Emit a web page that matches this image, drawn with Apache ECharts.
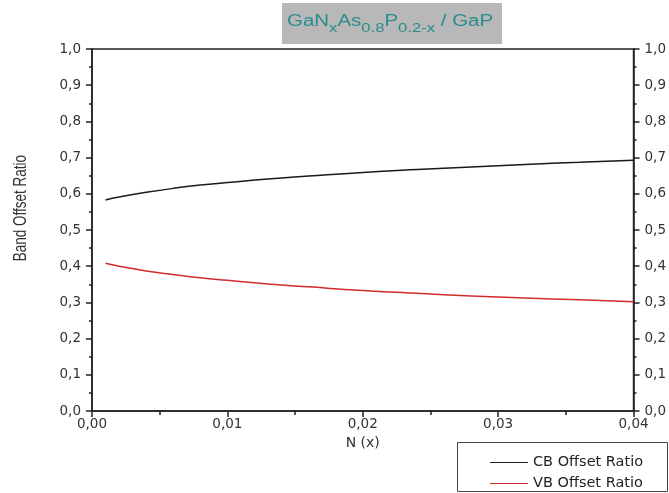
<!DOCTYPE html>
<html>
<head>
<meta charset="utf-8">
<script src="https://cdn.jsdelivr.net/npm/echarts@6/dist/echarts.min.js"></script>
<style>
  html, body { margin: 0; padding: 0; background: #fff; }
  #chart { width: 669px; height: 493px; }
</style>
</head>
<body>
<div id="chart"></div>
<script>
// N (x) values
const xValues = [0.001, 0.002, 0.004, 0.006, 0.008, 0.010, 0.013, 0.016, 0.020, 0.024, 0.028, 0.032, 0.036, 0.040];
// CB offset ratio
const cbRatio = [0.583, 0.591, 0.604, 0.615, 0.624, 0.631, 0.641, 0.649, 0.659, 0.667, 0.674, 0.681, 0.687, 0.693];
// VB offset ratio
const vbRatio = [0.408, 0.400, 0.387, 0.377, 0.368, 0.361, 0.351, 0.343, 0.333, 0.325, 0.318, 0.312, 0.307, 0.302];

const seriesNames = ['CB Offset Ratio', 'VB Offset Ratio'];

const chart = echarts.init(document.getElementById('chart'));

const comma = (v, d) => v.toFixed(d).replace('.', ',');
const axisColor = '#222';
const font = 'DejaVu Sans, sans-serif';
const labelStyle = { color: '#333', fontSize: 13.5, fontFamily: font };

const yAxisBase = {
  type: 'value',
  min: 0,
  max: 1,
  interval: 0.1,
  axisLine: { show: true, lineStyle: { color: axisColor, width: 1.5 } },
  axisTick: { show: true, length: 6, lineStyle: { color: axisColor, width: 1.5 } },
  minorTick: { show: true, splitNumber: 2, length: 3, lineStyle: { color: axisColor, width: 1.5 } },
  splitLine: { show: false },
  axisLabel: Object.assign({ margin: 11, formatter: (v) => comma(v, 1) }, labelStyle),
};

chart.setOption({
  animation: false,
  grid: {
    left: 92,
    right: 34,
    top: 49,
    bottom: 82,
    show: true,
    borderColor: axisColor,
    borderWidth: 1.5,
  },
  xAxis: {
    type: 'value',
    min: 0,
    max: 0.04,
    interval: 0.01,
    name: 'N (x)',
    nameLocation: 'middle',
    nameGap: 22,
    nameTextStyle: Object.assign({}, labelStyle, { fontSize: 14 }),
    axisLine: { show: true, onZero: false, lineStyle: { color: axisColor, width: 1.5 } },
    axisTick: { show: true, length: 6, lineStyle: { color: axisColor, width: 1.5 } },
    minorTick: { show: true, splitNumber: 2, length: 4, lineStyle: { color: axisColor, width: 1.5 } },
    splitLine: { show: false },
    axisLabel: Object.assign({ margin: 6, formatter: (v) => comma(v, 2) }, labelStyle),
  },
  yAxis: [
    Object.assign({ position: 'left' }, yAxisBase),
    Object.assign({ position: 'right' }, yAxisBase),
  ],
  legend: {
    orient: 'vertical',
    left: 490,
    top: 455,
    padding: 0,
    itemWidth: 38,
    itemHeight: 14,
    itemGap: 6,
    icon: 'path://M0,0 L40,0 L40,1.2 L0,1.2 Z',
    textStyle: { fontSize: 14.5, color: '#222', fontFamily: font },
    data: seriesNames,
  },
  graphic: [
    {
      type: 'rect',
      shape: { x: 282, y: 3, width: 220, height: 41 },
      style: { fill: '#b8b8b8' },
    },
    {
      type: 'text',
      x: 287,
      y: 14,
      scaleX: 1.28,
      style: {
        text: '{a|GaN}{s|x}{a|As}{s|0.8}{a|P}{s|0.2-x}{a| / GaP}',
        rich: {
          a: { fontSize: 16, fill: '#2a8c8c', fontFamily: 'Liberation Sans, Arial, sans-serif', padding: [0, 0, 5, 0] },
          s: { fontSize: 13, fill: '#2a8c8c', fontFamily: 'Liberation Sans, Arial, sans-serif', padding: [7, 0, 0, 0] },
        },
      },
    },
    {
      type: 'rect',
      shape: { x: 457.5, y: 442.5, width: 210, height: 49 },
      style: { fill: '#fff', stroke: '#444', lineWidth: 1 },
      z: 0,
    },
    {
      // rotated y-axis title, stretched across its thickness like the source
      type: 'text',
      left: 12,
      top: 155,
      rotation: Math.PI / 2,
      scaleY: 1.3,
      style: {
        text: 'Band Offset Ratio',
        fontSize: 13.5,
        fill: '#333',
        fontFamily: 'Liberation Sans, Arial, sans-serif',
      },
    },
  ],
  series: [
    {
      name: seriesNames[0],
      type: 'line',
      smooth: true,
      showSymbol: false,
      symbol: 'none',
      lineStyle: { color: '#1a1a1a', width: 1.5 },
      itemStyle: { color: '#1a1a1a' },
      data: xValues.map((x, i) => [x, cbRatio[i]]),
    },
    {
      name: seriesNames[1],
      type: 'line',
      smooth: true,
      showSymbol: false,
      symbol: 'none',
      lineStyle: { color: '#d42a2a', width: 1.5 },
      itemStyle: { color: '#d42a2a' },
      data: xValues.map((x, i) => [x, vbRatio[i]]),
    },
  ],
});

window.addEventListener('resize', () => {
  chart.resize();
});
</script>
</body>
</html>
